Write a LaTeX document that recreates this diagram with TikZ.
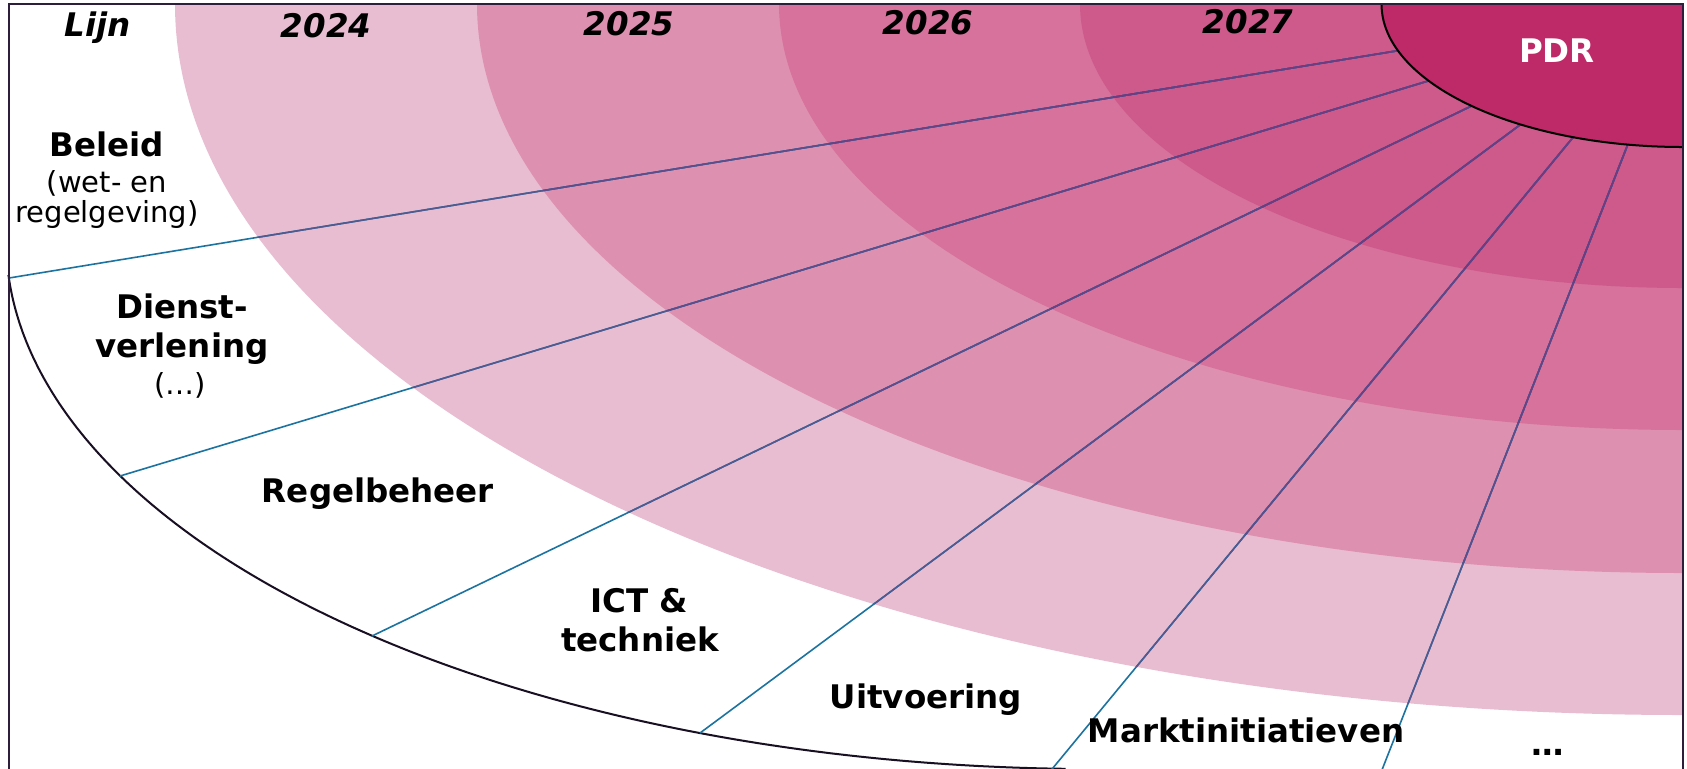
\documentclass[tikz,border=0pt]{standalone}
\usepackage{fontspec}
\setmainfont{DejaVu Sans}[ItalicFont={DejaVu Sans Oblique},BoldFont={DejaVu Sans Bold},BoldItalicFont={DejaVu Sans Bold Oblique}]
\definecolor{cA}{RGB}{233,189,209}
\definecolor{cB}{RGB}{222,144,176}
\definecolor{cC}{RGB}{214,114,156}
\definecolor{cD}{RGB}{205,90,139}
\definecolor{cPDR}{RGB}{190,42,104}
\definecolor{sp0}{RGB}{28,115,160}
\definecolor{sp1}{RGB}{80,90,145}
\definecolor{sp2}{RGB}{90,78,140}
\definecolor{sp3}{RGB}{100,68,135}
\definecolor{sp4}{RGB}{105,62,130}
\definecolor{frm}{RGB}{45,30,60}
\begin{document}
\begin{tikzpicture}[x=0.5pt,y=-0.5pt,
  lbl/.style={anchor=base,inner sep=0pt,font=\fontsize{16.25}{19}\selectfont\bfseries},
  sub/.style={anchor=base,inner sep=0pt,font=\fontsize{14.5}{17}\selectfont},
  yr/.style={anchor=base,inner sep=0pt,font=\fontsize{16.25}{19}\selectfont\bfseries\itshape},
  spoke/.style={line width=0.8pt},
  lijnline/.style={line width=1pt,draw={rgb,255:red,25;green,15;blue,35}},
  frameline/.style={line width=0.7pt,draw=frm}]
\useasboundingbox (0,0) rectangle (1687,768);
\fill[white] (0,0) rectangle (1687,768);
\coordinate (C) at (1683,4);
% rings
\begin{scope}
  \clip (9,4) rectangle (1683,800);
  \fill[cA] (C) ellipse [x radius=1508, y radius=711];
  \fill[cB] (C) ellipse [x radius=1206, y radius=569];
  \fill[cC] (C) ellipse [x radius=904, y radius=426];
  \fill[cD] (C) ellipse [x radius=603, y radius=284];
\end{scope}
% Lijn boundary
\draw[lijnline] plot[domain=176.2:91.5,samples=150,variable=\t] ({1094+1088*cos(\t)},{240+529*sin(\t)});
% spokes
\coordinate (s1) at (9,278);
\coordinate (s2) at (120,476);
\coordinate (s3) at (372,636);
\coordinate (s4) at (700,733);
\coordinate (s5) at (1043,780);
\coordinate (s6) at (1378,780);
\foreach \s in {s1,s2,s3,s4,s5,s6} \draw[spoke,sp0] (\s) -- (C);
\begin{scope}
  \clip (C) ellipse [x radius=1508, y radius=711];
  \foreach \s in {s1,s2,s3,s4,s5,s6} \draw[spoke,sp1] (\s) -- (C);
\end{scope}
\begin{scope}
  \clip (C) ellipse [x radius=1206, y radius=569];
  \foreach \s in {s1,s2,s3,s4,s5,s6} \draw[spoke,sp2] (\s) -- (C);
\end{scope}
\begin{scope}
  \clip (C) ellipse [x radius=904, y radius=426];
  \foreach \s in {s1,s2,s3,s4,s5,s6} \draw[spoke,sp3] (\s) -- (C);
\end{scope}
\begin{scope}
  \clip (C) ellipse [x radius=603, y radius=284];
  \foreach \s in {s1,s2,s3,s4,s5,s6} \draw[spoke,sp4] (\s) -- (C);
\end{scope}
% PDR
\begin{scope}
  \clip (9,4) rectangle (1683,800);
  \filldraw[fill=cPDR,draw=black,line width=1pt] (C) ellipse [x radius=301.5, y radius=143];
\end{scope}
% frame
\draw[frameline] (9,800) -- (9,4) -- (1683,4) -- (1683,800);
% texts
\node[yr] (lijn) at (98,36) {Lijn};
\node[yr] (y2024) at (326,37) {2024};
\node[yr] (y2025) at (629,35) {2025};
\node[yr] (y2026) at (928,34) {2026};
\node[yr] (y2027) at (1248,33) {2027};
\node[lbl,white] (pdr) at (1557,62) {PDR};
\node[lbl] (beleidA) at (107,156) {Beleid};
\node[sub] (beleidB) at (107,192) {(wet- en};
\node[sub] (beleidC) at (107,222) {regelgeving)};
\node[lbl] (dienstA) at (182,318) {Dienst-};
\node[lbl] (dienstB) at (182,357) {verlening};
\node[sub] (dienstC) at (180,394) {(…)};
\node[lbl] (regel) at (378,502) {Regelbeheer};
\node[lbl] (ictA) at (639,612) {ICT \&};
\node[lbl] (ictB) at (640,651) {techniek};
\node[lbl] (uitv) at (926,708) {Uitvoering};
\node[lbl] (markt) at (1246,742) {Marktinitiatieven};
\node[lbl] (dots) at (1548,755) {…};
\end{tikzpicture}
\end{document}
